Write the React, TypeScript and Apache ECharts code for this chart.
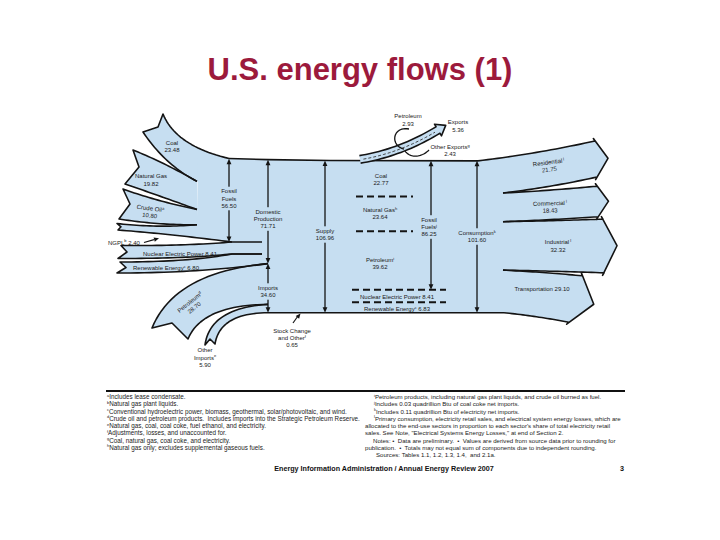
import React, { useEffect, useRef } from "react";
import * as echarts from "echarts";

type Pt = [number, number];

// ---------------- data (quadrillion Btu) ----------------
const fossilNames = ["Coal", "Natural Gas", "Crude Oil", "NGPL"];
const fossilNotes = ["", "", "a", "b"];
const fossilValues = [23.48, 19.82, 10.8, 2.4];
const otherSourceNames = ["Nuclear Electric Power", "Renewable Energy"];
const otherSourceNotes = ["", "c"];
const otherSourceValues = [8.41, 6.8];
const importNames = ["Petroleum", "Other Imports"];
const importNotes = ["d", "e"];
const importValues = [28.7, 5.9];
const exportNames = ["Petroleum", "Other Exports"];
const exportNotes = ["", "g"];
const exportValues = [2.93, 2.43];
const sectorNames = ["Residential", "Commercial", "Industrial", "Transportation"];
const sectorNotes = ["l", "l", "l", ""];
const sectorValues = [21.75, 18.43, 32.32, 29.1];
const useNames = ["Coal", "Natural Gas", "Petroleum", "Nuclear Electric Power", "Renewable Energy"];
const useNotes = ["", "h", "i", "", "c"];
const useValues = [22.77, 23.64, 39.62, 8.41, 6.83];
const fossilFuelsTotal = 56.5;
const domesticTotal = 71.71;
const importsTotal = 34.6;
const supplyTotal = 106.96;
const exportsTotal = 5.36;
const fossilUseTotal = 86.25;
const consumptionTotal = 101.6;
const stockChange = 0.65;

const titleText = "U.S. energy flows (1)";
const footerText = "Energy Information Administration / Annual Energy Review 2007";
const pageNumber = "3";
const leftNotes: [string, string][] = [
  ["a", "Includes lease condensate."],
  ["b", "Natural gas plant liquids."],
  ["c", "Conventional hydroelectric power, biomass, geothermal, solar/photovoltaic, and wind."],
  ["d", "Crude oil and petroleum products.  Includes imports into the Strategic Petroleum Reserve."],
  ["e", "Natural gas, coal, coal coke, fuel ethanol, and electricity."],
  ["f", "Adjustments, losses, and unaccounted for."],
  ["g", "Coal, natural gas, coal coke, and electricity."],
  ["h", "Natural gas only; excludes supplemental gaseous fuels."],
];
const rightNotes: [string, string, number][] = [
  ["i", "Petroleum products, including natural gas plant liquids, and crude oil burned as fuel.", 0],
  ["j", "Includes 0.03 quadrillion Btu of coal coke net imports.", 0],
  ["k", "Includes 0.11 quadrillion Btu of electricity net imports.", 0],
  ["l", "Primary consumption, electricity retail sales, and electrical system energy losses, which are", 0],
  ["", "allocated to the end-use sectors in proportion to each sector's share of total electricity retail", -9],
  ["", "sales. See Note, \"Electrical Systems Energy Losses,\" at end of Section 2.", -9],
  ["", "Notes: \u2022  Data are preliminary.  \u2022  Values are derived from source data prior to rounding for", -1],
  ["", "publication.  \u2022  Totals may not equal sum of components due to independent rounding.", -9],
  ["", "Sources: Tables 1.1, 1.2, 1.3, 1.4,  and 2.1a.", 2],
];

// ---------------- styles & layout ----------------
const FILL = "#C6DEF1";
const INK = "#141414";
const TXT = "#202020";
const FONT = "'Liberation Sans', Arial, Helvetica, sans-serif";
const TITLE_COLOR = "#9C1A3C";
const SCALE = 1.42; // px per quadrillion Btu

const FOSSIL_CX = 197;
const FOSSIL_Y0 = 148;
const FOSSIL_BOTTOM = 242;
const fossilTails = [
  { T: [163, 114] as Pt, N: [158, 127] as Pt, B: [143, 132] as Pt, cTop: [176, 146] as Pt, cBot: [165, 165] as Pt },
  { T: [133, 150] as Pt, N: [139, 167] as Pt, B: [125, 184] as Pt, cTop: [163, 162] as Pt, cBot: [160, 196] as Pt },
  { T: [123, 189] as Pt, N: [130, 204] as Pt, B: [119, 219] as Pt, cTop: [156, 201] as Pt, cBot: [156, 225] as Pt },
  { T: [117, 223.5] as Pt, N: [121, 226.8] as Pt, B: [118, 230] as Pt, cTop: [156, 228] as Pt, cBot: [170, 234] as Pt },
];
const otherTails = [
  { T: [121, 245.5] as Pt, N: [127, 252] as Pt, B: [118, 258.5] as Pt, cTop: [185, 246] as Pt, cBot: [190, 258.5] as Pt },
  { T: [120, 262] as Pt, N: [126, 267.5] as Pt, B: [117, 273] as Pt, cTop: [190, 262] as Pt, cBot: [200, 273] as Pt },
];
const importTails = [
  { T: [152, 328] as Pt, N: [172, 323] as Pt, B: [188, 339] as Pt, cTop: [175, 272] as Pt, cBot: [202, 305] as Pt },
  { T: [205, 345] as Pt, N: [210, 339] as Pt, B: [215, 344] as Pt, cTop: [210, 308] as Pt, cBot: [220, 313] as Pt },
];
const RX = 503;
const sectorEndCenter: Pt[] = [[596, 159], [597.5, 201.5], [603.5, 246], [575.5, 299]];
const sectorEndAxis: Pt[] = [[0.055, 1], [0.03, 1], [0.02, 1], [-0.277, 0.961]];
const sectorHead = [12, 11, 13.5, 19];
const END_SPREAD = 1.17;

const RICH = {
  s: { fontSize: 4, verticalAlign: "top", fill: TXT, fontFamily: FONT, padding: [0, 0, 3, 0] },
};

// ---------------- helpers ----------------
const quad = (a: Pt, c: Pt, b: Pt, n = 24): Pt[] => {
  const out: Pt[] = [];
  for (let i = 0; i <= n; i++) {
    const t = i / n, u = 1 - t;
    out.push([u * u * a[0] + 2 * u * t * c[0] + t * t * b[0], u * u * a[1] + 2 * u * t * c[1] + t * t * b[1]]);
  }
  return out;
};
const cubic = (a: Pt, b: Pt, c: Pt, d: Pt, n = 24): Pt[] => {
  const out: Pt[] = [];
  for (let i = 0; i <= n; i++) {
    const t = i / n, u = 1 - t;
    out.push([
      u * u * u * a[0] + 3 * u * u * t * b[0] + 3 * u * t * t * c[0] + t * t * t * d[0],
      u * u * u * a[1] + 3 * u * u * t * b[1] + 3 * u * t * t * c[1] + t * t * t * d[1],
    ]);
  }
  return out;
};
const cum = (vals: number[]) => vals.reduce((acc: number[], v) => { acc.push(acc[acc.length - 1] + v); return acc; }, [0]);
const f2 = (v: number) => v.toFixed(2);
const add = (a: Pt, b: Pt, s = 1): Pt => [a[0] + b[0] * s, a[1] + b[1] * s];
const norm = (v: Pt): Pt => { const l = Math.hypot(v[0], v[1]) || 1; return [v[0] / l, v[1] / l]; };
const sup = (n: string) => (n ? `{s|${n}}` : "");

const renderItem = (_params: any, api: any) => {
  const P = (p: Pt): Pt => api.coord(p) as Pt;
  const MP = (pts: Pt[]) => pts.map(P);
  const fills: any[] = [];
  const lines: any[] = [];
  const over: any[] = [];
  const texts: any[] = [];
  const addFill = (pts: Pt[], arr = fills) =>
    arr.push({ type: "polygon", shape: { points: MP(pts) }, style: { fill: FILL, stroke: null } });
  const addLine = (pts: Pt[], arr = lines, w = 1.6, dash: number[] | null = null, color = INK) =>
    arr.push({ type: "polyline", shape: { points: MP(pts) }, style: { stroke: color, lineWidth: w, fill: null, lineDash: dash, lineJoin: "round", lineCap: "butt" } });
  const addText = (text: string, x: number, y: number, o: any = {}) => {
    const p = P([x, y]);
    texts.push({
      type: "text", x: p[0], y: p[1], rotation: o.rot || 0,
      style: {
        text, fill: TXT, fontSize: o.size || 6, fontFamily: FONT, fontWeight: "normal",
        align: o.align || "center", verticalAlign: "middle", lineHeight: 7.2, rich: RICH,
        backgroundColor: o.bg ? FILL : "transparent", padding: o.bg ? [1, 1] : 0,
      },
    });
  };
  const addHead = (tip: Pt, from: Pt, len = 5.5, half = 2.4) => {
    const d = norm([tip[0] - from[0], tip[1] - from[1]]);
    const n: Pt = [-d[1], d[0]];
    const base = add(tip, d, -len);
    over.push({ type: "polygon", shape: { points: MP([tip, add(base, n, half), add(base, n, -half)]) }, style: { fill: INK } });
  };
  const dblArrow = (x: number, y1: number, y2: number) => {
    addLine([[x, y1 + 3], [x, y2 - 3]], over, 1.3);
    addHead([x, y1], [x, y1 + 10]);
    addHead([x, y2], [x, y2 - 10]);
  };

  const K = SCALE;
  const NUC_BOTTOM = FOSSIL_BOTTOM + otherSourceValues[0] * K;
  const REN_BOTTOM = NUC_BOTTOM + otherSourceValues[1] * K;
  const PET_BOTTOM = REN_BOTTOM + importValues[0] * K;
  const MAIN_BOTTOM = PET_BOTTOM + importValues[1] * K;
  const MAIN_TOP = MAIN_BOTTOM - supplyTotal * K;

  // ---- fossil fuel inflows ----
  const fb = cum(fossilValues).map((c) => FOSSIL_Y0 + c * K);
  let coalTop: Pt[] = [];
  let ngplBottom: Pt[] = [];
  fossilTails.forEach((t, i) => {
    const topEnd: Pt = i === 0 ? [229, MAIN_TOP - 2.4] : [FOSSIL_CX, fb[i]];
    const botEnd: Pt = i === fossilTails.length - 1 ? [232, FOSSIL_BOTTOM] : [FOSSIL_CX, fb[i + 1]];
    const top = quad(t.T, t.cTop, topEnd);
    const bot = quad(t.B, t.cBot, botEnd);
    if (i === 0) coalTop = top;
    if (i === fossilTails.length - 1) ngplBottom = bot;
    addFill([...top, ...bot.slice().reverse(), t.N]);
    addLine([...bot.slice().reverse(), t.N, ...top]);
  });

  // ---- nuclear & renewable ----
  const otherEdges: [number, number, number][] = [
    [FOSSIL_BOTTOM, NUC_BOTTOM, 262],
    [NUC_BOTTOM, REN_BOTTOM, 268],
  ];
  otherTails.forEach((t, i) => {
    const [yt, yb, xb] = otherEdges[i];
    const top = [...quad(t.T, t.cTop, [232, yt]), [262, yt] as Pt];
    const bot = i === 0 ? [...quad(t.B, t.cBot, [232, yb]), [262, yb] as Pt] : quad(t.B, t.cBot, [xb, yb]);
    addFill([...top, ...bot.slice().reverse(), t.N]);
    addLine([...bot.slice().reverse(), t.N, ...top]);
  });

  // ---- imports ----
  const impEdges: [number, number][] = [[REN_BOTTOM, PET_BOTTOM], [PET_BOTTOM, MAIN_BOTTOM]];
  importTails.forEach((t, i) => {
    const top = quad(t.T, t.cTop, [268, impEdges[i][0]]);
    const bot = quad(t.B, t.cBot, [268, impEdges[i][1]]);
    addFill([...top, ...bot.slice().reverse(), t.N]);
    addLine([...bot.slice().reverse(), t.N, ...top]);
  });

  // ---- end-use sectors ----
  const g = (MAIN_BOTTOM - MAIN_TOP - consumptionTotal * K) / (sectorValues.length - 1);
  const sc = cum(sectorValues);
  const bnd = sectorValues.map((_, i) => (i === 0 ? MAIN_TOP : MAIN_TOP + sc[i] * K + (i - 0.5) * g));
  sectorValues.forEach((v, i) => {
    const last = i === sectorValues.length - 1;
    const sTop: Pt = i === 0 ? [478, MAIN_TOP] : [RX, bnd[i]];
    const sBot: Pt = last ? [504, MAIN_BOTTOM] : [RX, bnd[i + 1]];
    const u = norm(sectorEndAxis[i]);
    const f: Pt = [u[1], -u[0]];
    const w = v * K * END_SPREAD;
    const c = sectorEndCenter[i];
    const A = add(c, u, -w / 2), B = add(c, u, w / 2);
    const tip = add(c, f, sectorHead[i]);
    const A2 = add(add(A, u, -2.5), f, -1.5), B2 = add(add(B, u, 2.5), f, -1.5);
    const ctl = (s: Pt, e: Pt): Pt => [(s[0] + e[0]) / 2, s[1] + (e[1] - s[1]) * 0.35];
    const top = quad(sTop, ctl(sTop, A), A);
    const bot = quad(sBot, ctl(sBot, B), B);
    const outline = [...top, A2, tip, B2, ...bot.slice().reverse()];
    addFill(outline);
    addLine(outline);
  });

  // ---- main body ----
  const mainTopPts: Pt[] = [[229, MAIN_TOP - 2.4], [268, MAIN_TOP - 1.2], [330, MAIN_TOP - 0.4], [478, MAIN_TOP]];
  addFill([
    ...coalTop.filter((p) => p[0] >= 195),
    ...mainTopPts.slice(1),
    [504, MAIN_TOP], [504, MAIN_BOTTOM], [266, MAIN_BOTTOM], [266, REN_BOTTOM], [258, REN_BOTTOM], [258, FOSSIL_BOTTOM],
    ...ngplBottom.filter((p) => p[0] >= 195).reverse(),
  ]);
  addLine(mainTopPts);
  addLine([[268, MAIN_BOTTOM], [504, MAIN_BOTTOM]]);

  // ---- exports ----
  const EXP_C0: Pt = [360, MAIN_TOP - 1.5], EXP_CC: Pt = [400, 153], EXP_C1: Pt = [438, 130];
  const ec = quad(EXP_C0, EXP_CC, EXP_C1);
  const we = exportsTotal * K;
  const eTop: Pt[] = [], eBot: Pt[] = [], eMid: Pt[] = [];
  ec.forEach((p, i) => {
    const a = ec[Math.max(0, i - 1)], b = ec[Math.min(ec.length - 1, i + 1)];
    const t = norm([b[0] - a[0], b[1] - a[1]]);
    const nTop: Pt = [t[1], -t[0]];
    eTop.push(add(p, nTop, we / 2));
    eBot.push(add(p, nTop, -we / 2));
    eMid.push(add(p, nTop, we / 2 - exportValues[0] * K));
  });
  const t1 = norm([EXP_C1[0] - EXP_CC[0], EXP_C1[1] - EXP_CC[1]]);
  const n1: Pt = [t1[1], -t1[0]];
  const eOutline = [...eTop, add(EXP_C1, n1, we / 2 + 3), add(EXP_C1, t1, 9), add(EXP_C1, n1, -(we / 2 + 3)), ...eBot.slice().reverse()];
  addFill(eOutline, over);
  addLine(eOutline, over);
  addLine(eMid.slice(1, eMid.length - 1), over, 0.9, [3, 2], "#333");
  addLine(cubic([409, 129], [392, 126], [390, 146], [404, 149]), over, 1.3);
  addLine(cubic([429, 150], [421, 158], [410, 158], [405, 151]), over, 1.3);

  // ---- consumption breakdown dashes ----
  const useTop = MAIN_TOP + 2;
  const KU = (MAIN_BOTTOM - useTop) / consumptionTotal;
  const uy = cum(useValues).map((c) => useTop + c * KU);
  [[uy[1], 356, 413], [uy[2], 356, 413], [uy[3], 352, 446], [uy[4], 352, 446]].forEach(([y, x1, x2]) =>
    addLine([[x1, y], [x2, y]], over, 2, [7, 4])
  );

  // ---- arrows ----
  dblArrow(229, MAIN_TOP - 2, FOSSIL_BOTTOM);
  dblArrow(268, MAIN_TOP - 1, REN_BOTTOM);
  dblArrow(268, REN_BOTTOM, MAIN_BOTTOM);
  dblArrow(325, MAIN_TOP - 0.4, MAIN_BOTTOM);
  dblArrow(431, MAIN_TOP, uy[3]);
  dblArrow(477, MAIN_TOP, MAIN_BOTTOM);
  addLine([[293, 323], [298, 316]], over, 1.2);
  addHead([300.5, MAIN_BOTTOM + 0.8], [293, 323], 5, 2.2);
  addLine([[144, 242.5], [154, 239.6]], over, 1.2);
  addHead([159, 238.2], [144, 242.5], 5, 2.2);

  // ---- labels ----
  const fossilLabelPos: [number, number, number][] = [[172, 146.5, 0], [151, 180, 0], [150, 212, -0.12]];
  fossilLabelPos.forEach(([x, y, r], i) =>
    addText(`${fossilNames[i]}${sup(fossilNotes[i])}\n${f2(fossilValues[i])}`, x, y, { rot: r })
  );
  addText(`${fossilNames[3]}${sup(fossilNotes[3])} ${f2(fossilValues[3])}`, 108, 242.5, { align: "left" });
  addText(`${otherSourceNames[0]} ${f2(otherSourceValues[0])}`, 180, 253.5);
  addText(`${otherSourceNames[1]}${sup(otherSourceNotes[1])} ${f2(otherSourceValues[1])}`, 166, 268);
  addText(`Fossil\nFuels\n${f2(fossilFuelsTotal)}`, 229, 198.5, { bg: true });
  addText(`Domestic\nProduction\n${f2(domesticTotal)}`, 268, 219, { bg: true });
  addText(`Supply\n${f2(supplyTotal)}`, 325, 234.5, { bg: true });
  addText(`Imports\n${f2(importsTotal)}`, 268, 291.5, { bg: true });
  addText(`${importNames[0]}${sup(importNotes[0])}\n${f2(importValues[0])}`, 192, 305, { rot: 0.68 });
  addText(`Other\nImports${sup(importNotes[1])}\n${f2(importValues[1])}`, 205, 357.5);
  addText(`Stock Change\nand Other{s|f}\n${f2(stockChange)}`, 292, 338);
  addText(`Exports\n${f2(exportsTotal)}`, 458, 126);
  addText(`${exportNames[0]}${sup(exportNotes[0])}\n${f2(exportValues[0])}`, 408, 120);
  addText(`${exportNames[1]}${sup(exportNotes[1])}\n${f2(exportValues[1])}`, 450, 150.5);
  addText(`Fossil\nFuels{s|j}\n${f2(fossilUseTotal)}`, 429, 227, { bg: true });
  addText(`Consumption{s|k}\n${f2(consumptionTotal)}`, 477, 236.5, { bg: true });
  addText(`${useNames[0]}${sup(useNotes[0])}\n${f2(useValues[0])}`, 381, (uy[0] + uy[1]) / 2);
  addText(`${useNames[1]}${sup(useNotes[1])}\n${f2(useValues[1])}`, 380, (uy[1] + uy[2]) / 2);
  addText(`${useNames[2]}${sup(useNotes[2])}\n${f2(useValues[2])}`, 380, (uy[2] + uy[3]) / 2 + 3);
  addText(`${useNames[3]}${sup(useNotes[3])} ${f2(useValues[3])}`, 397, (uy[3] + uy[4]) / 2 + 1);
  addText(`${useNames[4]}${sup(useNotes[4])} ${f2(useValues[4])}`, 397, (uy[4] + MAIN_BOTTOM) / 2 + 1.5);
  const sectorLabelPos: [number, number, number][] = [[549, 166, 0.13], [550, 207, 0.03], [558, 246, 0], [542, 289, 0]];
  sectorLabelPos.forEach(([x, y, r], i) => {
    const txt = i === 3
      ? `${sectorNames[i]} ${f2(sectorValues[i])}`
      : `${sectorNames[i]}${sup(sectorNotes[i] ? " " + sectorNotes[i] : "")}\n${f2(sectorValues[i])}`;
    addText(txt, x, y, { rot: r });
  });

  return { type: "group", children: [...fills, ...lines, ...over, ...texts] };
};

const buildGraphic = () => {
  const els: any[] = [];
  els.push({
    type: "text", x: 360, y: 69,
    style: { text: titleText, fill: TITLE_COLOR, font: `bold 31px ${FONT}`, align: "center", verticalAlign: "middle" },
  });
  els.push({ type: "line", shape: { x1: 106, y1: 391, x2: 625, y2: 391 }, style: { stroke: "#111", lineWidth: 2 } });
  const noteRich = { s: { fontSize: 4, verticalAlign: "top", fill: "#222", fontFamily: FONT, padding: [0, 0, 3, 0] } };
  leftNotes.forEach(([k, t], i) => {
    els.push({
      type: "text", x: 107, y: 396.5 + i * 7.25,
      style: { text: `{s|${k}}${t}`, fill: "#222", fontSize: 6.3, fontFamily: FONT, align: "left", verticalAlign: "middle", rich: noteRich },
    });
  });
  rightNotes.forEach(([k, t, dx], i) => {
    els.push({
      type: "text", x: 374 + dx, y: 396.5 + i * 7.25,
      style: { text: `${k ? `{s|${k}}` : ""}${t}`, fill: "#222", fontSize: 6.1, fontFamily: FONT, align: "left", verticalAlign: "middle", rich: noteRich },
    });
  });
  els.push({
    type: "text", x: 384, y: 468,
    style: { text: footerText, fill: "#111", font: `bold 7.2px ${FONT}`, align: "center", verticalAlign: "middle" },
  });
  els.push({
    type: "text", x: 622, y: 468,
    style: { text: pageNumber, fill: "#111", font: `bold 7.2px ${FONT}`, align: "center", verticalAlign: "middle" },
  });
  return els;
};

export default function App() {
  const ref = useRef<HTMLDivElement>(null);
  useEffect(() => {
    if (!ref.current) return;
    const chart = echarts.init(ref.current, undefined, { renderer: "svg" });
    chart.setOption({
      animation: false,
      backgroundColor: "#ffffff",
      grid: { left: 0, right: 0, top: 0, bottom: 0 },
      xAxis: { type: "value", min: 0, max: 720, show: false },
      yAxis: { type: "value", min: 0, max: 540, inverse: true, show: false },
      series: [
        { type: "custom", coordinateSystem: "cartesian2d", data: [[0, 0]], renderItem, clip: false, silent: true },
      ],
      graphic: buildGraphic(),
    });
    return () => chart.dispose();
  }, []);
  return (
    <div
      ref={ref}
      style={{ position: "fixed", left: 0, top: 0, width: 720, height: 540, background: "#fff" }}
    />
  );
}
